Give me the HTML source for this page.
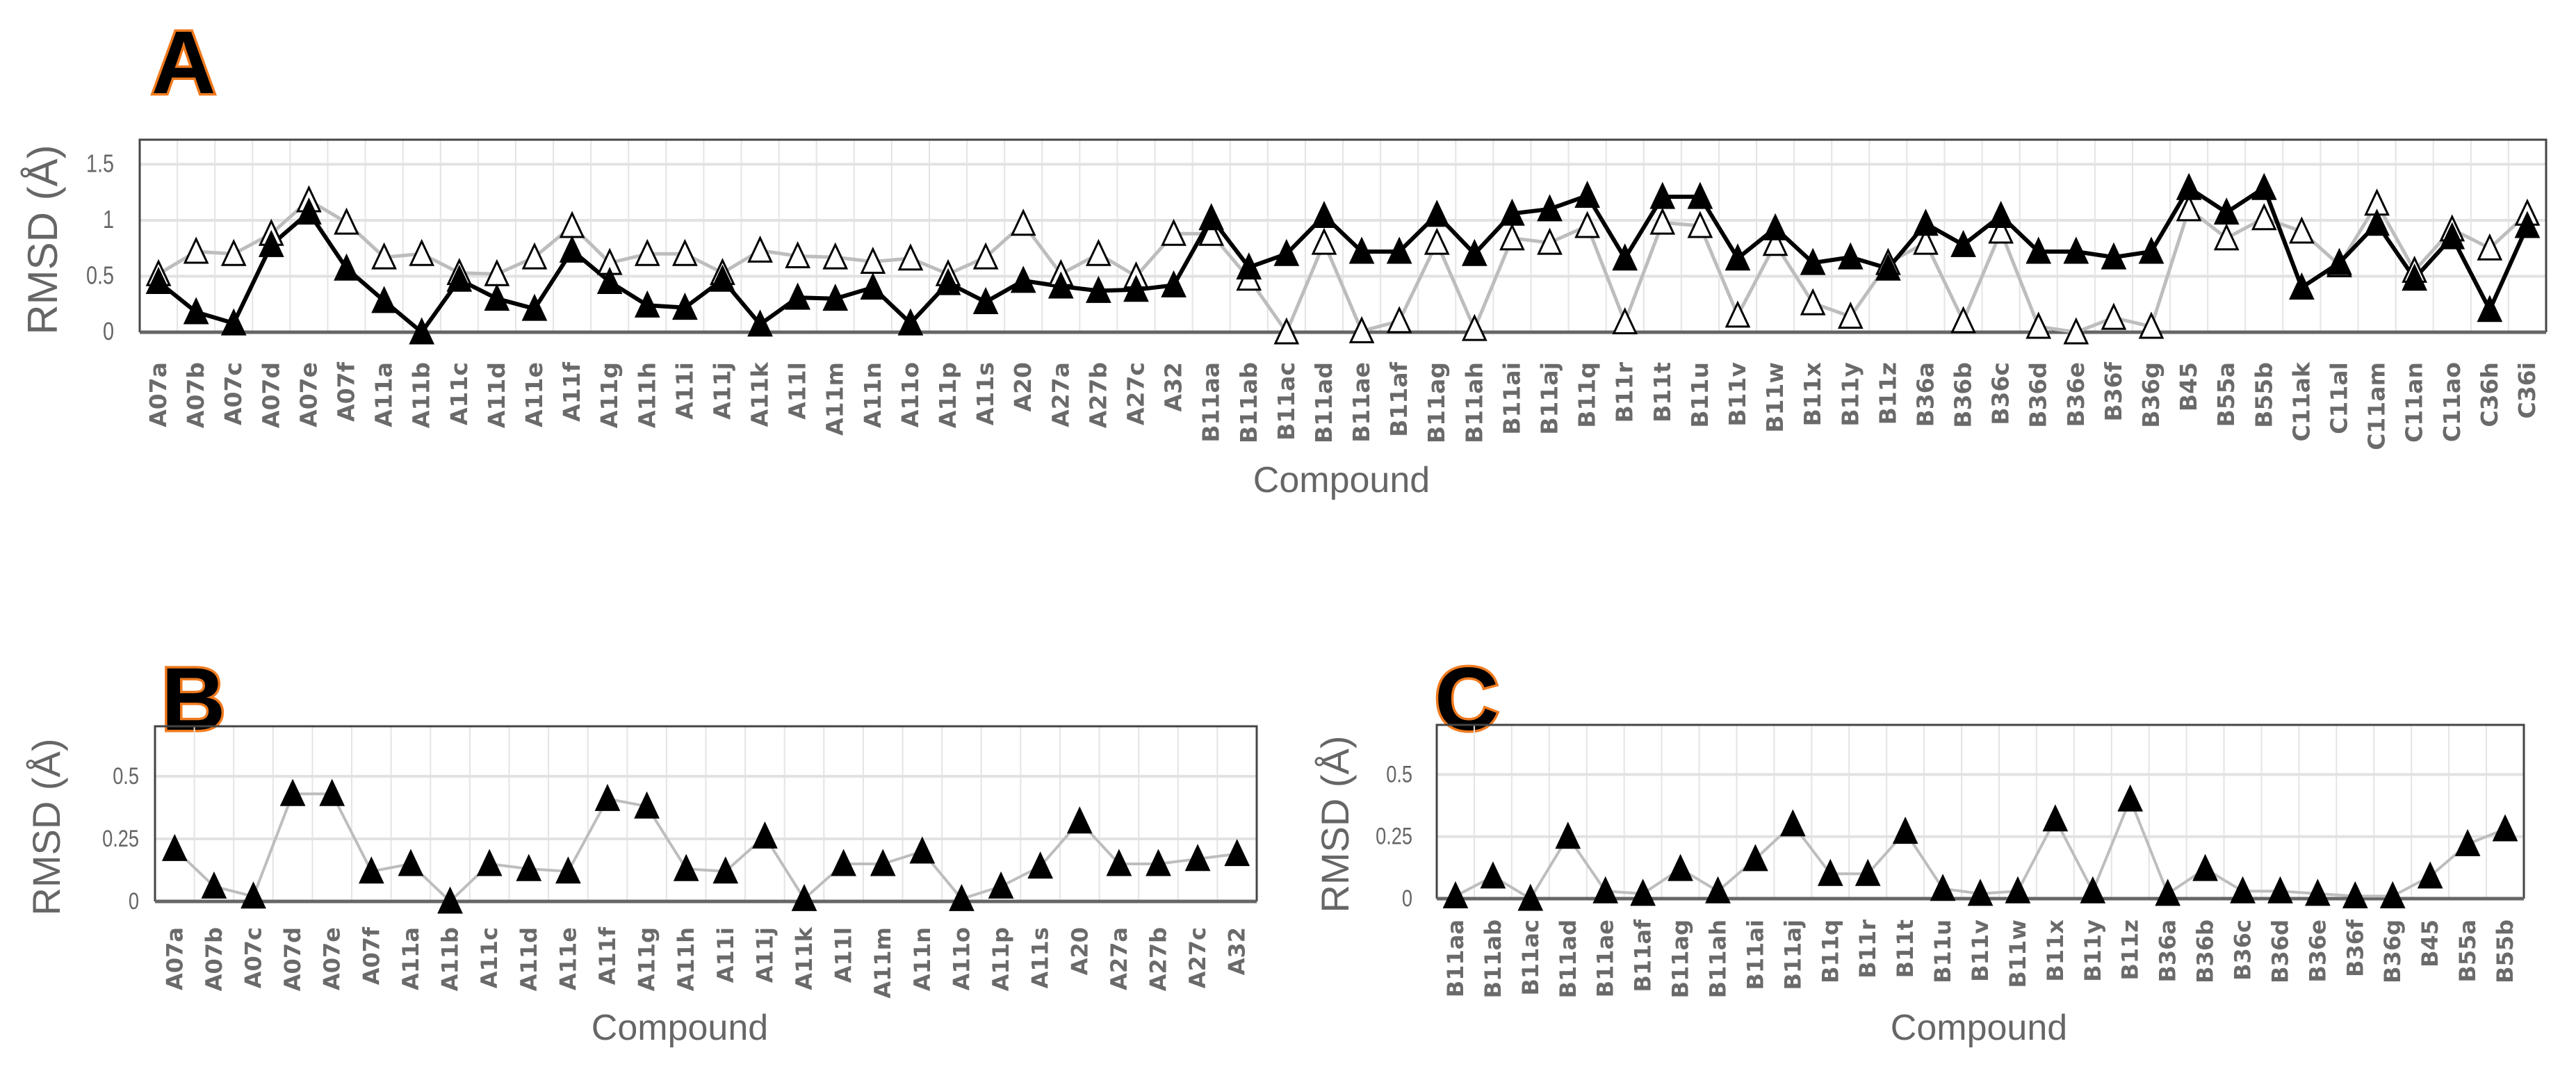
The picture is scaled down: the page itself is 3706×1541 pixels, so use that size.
<!DOCTYPE html>
<html><head><meta charset="utf-8"><style>
html,body{margin:0;padding:0;background:#fff;}
svg{display:block;}
</style></head><body>
<svg id="fig" width="3706" height="1541" viewBox="0 0 3706 1541" xmlns="http://www.w3.org/2000/svg" font-family="'Liberation Sans', 'DejaVu Sans', sans-serif">
<rect x="0" y="0" width="3706" height="1541" fill="#fff"/>
<text x="218" y="134" font-size="128" font-weight="bold" fill="#000" stroke="#f07a1e" stroke-width="7" paint-order="stroke">A</text>
<text x="232" y="1050" font-size="128" font-weight="bold" fill="#000" stroke="#f07a1e" stroke-width="7" paint-order="stroke">B</text>
<text x="2064" y="1050" font-size="128" font-weight="bold" fill="#000" stroke="#f07a1e" stroke-width="7" paint-order="stroke">C</text>
<g id="chartA"></g>
<g id="chartB"></g>
<g id="chartC"></g>
</svg>
<script>
const catsA = ["A07a","A07b","A07c","A07d","A07e","A07f","A11a","A11b","A11c","A11d","A11e","A11f","A11g","A11h","A11i","A11j","A11k","A11l","A11m","A11n","A11o","A11p","A11s","A20","A27a","A27b","A27c","A32","B11aa","B11ab","B11ac","B11ad","B11ae","B11af","B11ag","B11ah","B11ai","B11aj","B11q","B11r","B11t","B11u","B11v","B11w","B11x","B11y","B11z","B36a","B36b","B36c","B36d","B36e","B36f","B36g","B45","B55a","B55b","C11ak","C11al","C11am","C11an","C11ao","C36h","C36i"];
const filledA = [0.45,0.18,0.08,0.78,1.07,0.57,0.28,0.0,0.47,0.30,0.21,0.73,0.45,0.24,0.22,0.47,0.07,0.31,0.30,0.40,0.08,0.44,0.27,0.46,0.41,0.37,0.38,0.42,1.02,0.58,0.70,1.04,0.72,0.72,1.05,0.70,1.06,1.10,1.22,0.66,1.21,1.21,0.66,0.93,0.62,0.67,0.57,0.97,0.78,1.04,0.72,0.72,0.67,0.72,1.29,1.07,1.29,0.40,0.62,0.97,0.48,0.85,0.20,0.95];
const openA = [0.52,0.72,0.70,0.88,1.18,0.98,0.67,0.70,0.53,0.52,0.67,0.95,0.62,0.70,0.70,0.53,0.73,0.68,0.67,0.63,0.66,0.52,0.67,0.97,0.52,0.70,0.50,0.88,0.88,0.48,0.0,0.80,0.01,0.10,0.80,0.03,0.84,0.80,0.95,0.09,0.98,0.95,0.15,0.79,0.26,0.14,0.62,0.80,0.10,0.90,0.05,0.0,0.13,0.05,1.10,0.84,1.02,0.90,0.60,1.15,0.55,0.92,0.75,1.06];
const ticksA = [0,0.5,1,1.5];
const tickLabelsA = ["0","0.5","1","1.5"];
const catsB = ["A07a","A07b","A07c","A07d","A07e","A07f","A11a","A11b","A11c","A11d","A11e","A11f","A11g","A11h","A11i","A11j","A11k","A11l","A11m","A11n","A11o","A11p","A11s","A20","A27a","A27b","A27c","A32"];
const valsB = [0.21,0.06,0.02,0.43,0.43,0.12,0.15,0.0,0.15,0.13,0.12,0.41,0.38,0.13,0.12,0.26,0.01,0.15,0.15,0.20,0.01,0.06,0.14,0.32,0.15,0.15,0.17,0.19];
const catsC = ["B11aa","B11ab","B11ac","B11ad","B11ae","B11af","B11ag","B11ah","B11ai","B11aj","B11q","B11r","B11t","B11u","B11v","B11w","B11x","B11y","B11z","B36a","B36b","B36c","B36d","B36e","B36f","B36g","B45","B55a","B55b"];
const valsC = [0.01,0.09,0.0,0.25,0.03,0.02,0.12,0.03,0.16,0.30,0.10,0.10,0.27,0.04,0.02,0.03,0.32,0.03,0.40,0.02,0.12,0.03,0.03,0.02,0.01,0.01,0.09,0.22,0.28];
const ticksBC = [0,0.25,0.5];
const tickLabelsBC = ["0","0.25","0.5"];

const NS = "http://www.w3.org/2000/svg";
function mk(parent, tag, attrs, text) {
  const e = document.createElementNS(NS, tag);
  for (const k in attrs) e.setAttribute(k, attrs[k]);
  if (text !== undefined) e.textContent = text;
  parent.appendChild(e);
  return e;
}

function drawChart(g, cfg) {
  const L = cfg.left, R = cfg.right, T = cfg.top, Z = cfg.zero, ymax = cfg.ymax;
  const n = cfg.cats.length, bw = (R - L) / n;
  const xs = i => L + bw * (i + 0.5);
  const ys = v => Z - (v / ymax) * (Z - T);
  for (let i = 1; i < n; i++) {
    const ln = mk(g, "line", {x1: L + bw * i, x2: L + bw * i, y1: T, y2: Z, stroke: "#e4e4e4", "stroke-width": 2});
    
    
  }
  cfg.ticks.forEach((t, i) => {
    if (t > 0) {
      const ln = mk(g, "line", {x1: L, x2: R, y1: ys(t), y2: ys(t), stroke: "#e2e2e2", "stroke-width": 4});
      
      
    }
    const tx = mk(g, "text", {x: cfg.tickX, y: ys(t) + 11, "text-anchor": "end", "font-size": cfg.tickSize, fill: "#666", transform: `translate(${cfg.tickX},0) scale(0.8,1) translate(${-cfg.tickX},0)`}, cfg.tickLabels[i]);
    
    
  });
  const fr = mk(g, "path", {d: `M${L},${Z} L${L},${T} L${R},${T} L${R},${Z}`, fill: "none", stroke: "#444", "stroke-width": 3});
  
  
  const ax = mk(g, "line", {x1: L, x2: R, y1: Z, y2: Z, stroke: "#666", "stroke-width": 5});
  
  
  cfg.cats.forEach((c, i) => {
    const x = xs(i) + 11, y = cfg.labelY;
    const tx = mk(g, "text", {x: x, y: y, "text-anchor": "end", "font-family": "'DejaVu Sans', sans-serif", "font-weight": "bold", "font-size": cfg.labelSize, fill: "#6a6a6a", transform: `rotate(-90 ${x} ${y})`}, c);
    
    
  });
  cfg.series.forEach(s => {
    const pts = s.vals.map((v, i) => `${xs(i).toFixed(1)},${ys(v).toFixed(1)}`).join(" ");
    const pl = mk(g, "polyline", {points: pts, fill: "none", stroke: s.line, "stroke-width": s.lw, "stroke-linejoin": "round"});
    
    
  });
  cfg.series.forEach(s => {
    s.vals.forEach((v, i) => {
      const x = xs(i), y = ys(v), w = 16, h = 16;
      const tri = mk(g, "polygon", {points: `${x},${y - h - 2} ${x - w},${y + h} ${x + w},${y + h}`, fill: s.fill, stroke: "#000", "stroke-width": 3});
      
      
    });
  });
  const yt = mk(g, "text", {x: cfg.ytX, y: cfg.ytY, "text-anchor": "middle", "font-size": cfg.ytSize, fill: "#666", transform: `rotate(-90 ${cfg.ytX} ${cfg.ytY})`}, "RMSD (Å)");
  
  
  const xt = mk(g, "text", {x: cfg.xtX, y: cfg.xtY, "text-anchor": "middle", "font-size": cfg.xtSize, fill: "#666"}, "Compound");
  
  
}

drawChart(document.getElementById("chartA"), {
  left: 201, right: 3663, top: 201, zero: 478, ymax: 1.72,
  cats: catsA, ticks: ticksA, tickLabels: tickLabelsA, tickX: 164, tickSize: 36,
  labelY: 521, labelSize: 33,
  series: [
    {name: "open-series", vals: openA, fill: "#fff", line: "#bdbdbd", lw: 5},
    {name: "filled-series", vals: filledA, fill: "#000", line: "#000", lw: 6}
  ],
  ytX: 82, ytY: 345, ytSize: 60, xtX: 1930, xtY: 708, xtSize: 52
});
drawChart(document.getElementById("chartB"), {
  left: 223, right: 1808, top: 1045, zero: 1297, ymax: 0.7,
  cats: catsB, ticks: ticksBC, tickLabels: tickLabelsBC, tickX: 200, tickSize: 34,
  labelY: 1334, labelSize: 32,
  series: [{name: "rmsd-series", vals: valsB, fill: "#000", line: "#bdbdbd", lw: 4}],
  ytX: 86, ytY: 1190, ytSize: 56, xtX: 978, xtY: 1496, xtSize: 52
});
drawChart(document.getElementById("chartC"), {
  left: 2067, right: 3631, top: 1043, zero: 1293, ymax: 0.7,
  cats: catsC, ticks: ticksBC, tickLabels: tickLabelsBC, tickX: 2032, tickSize: 34,
  labelY: 1323, labelSize: 32,
  series: [{name: "rmsd-series", vals: valsC, fill: "#000", line: "#bdbdbd", lw: 4}],
  ytX: 1940, ytY: 1186, ytSize: 56, xtX: 2847, xtY: 1496, xtSize: 52
});
</script>
</body></html>
